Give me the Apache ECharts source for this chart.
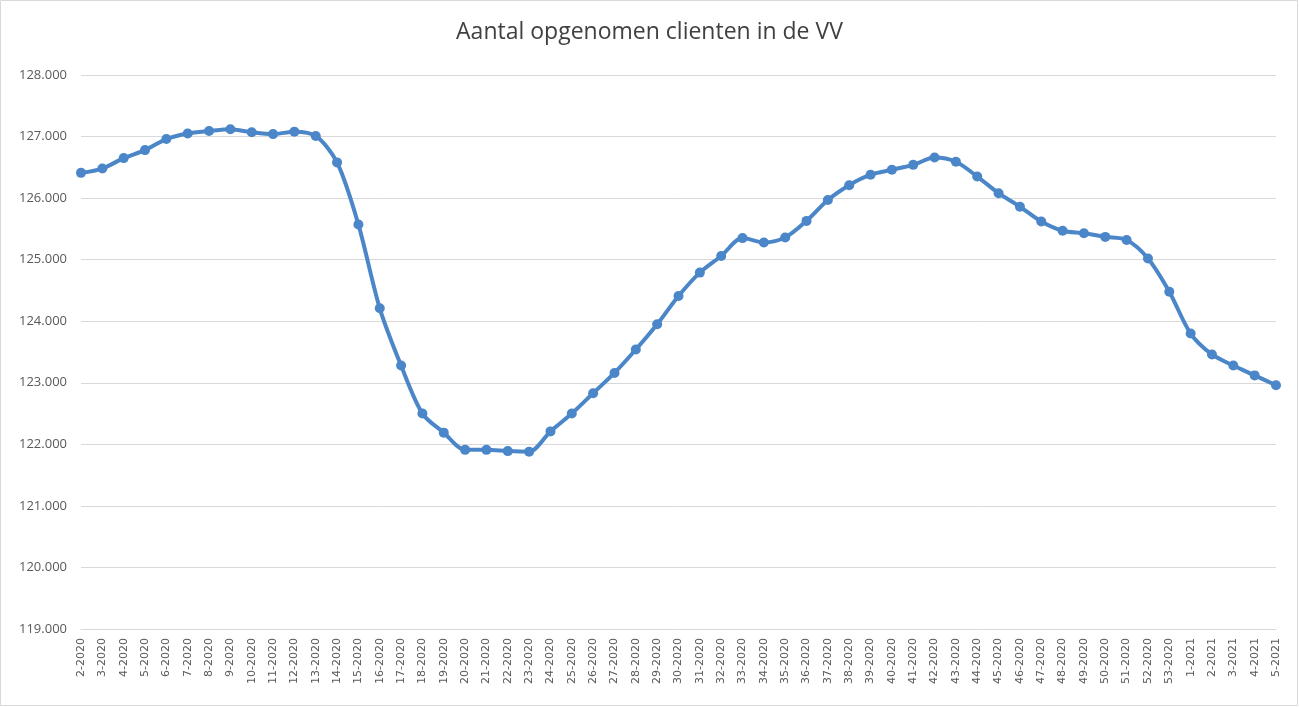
<!DOCTYPE html>
<html>
<head>
<meta charset="utf-8">
<script src="https://cdn.jsdelivr.net/npm/echarts@6/dist/echarts.min.js"></script>
<style>
html,body{margin:0;padding:0;background:#fff;}
#c{width:1299px;height:707px;}
</style>
</head>
<body>
<div id="c"></div>
<script>
const titleText = 'Aantal opgenomen clienten in de VV';
const weeks2020 = [];
for (let w = 2; w <= 53; w++) weeks2020.push(w + '-2020');
const weeks2021 = ['1-2021','2-2021','3-2021','4-2021','5-2021'];
const categories = weeks2020.concat(weeks2021);
const clients = [
  126410,126480,126650,126780,126960,127050,127090,127120,127070,127040,127080,127010,
  126580,125570,124210,123280,122500,122190,121910,121910,121890,121880,122210,122500,
  122830,123160,123540,123950,124410,124790,125060,125350,125280,125360,125630,125970,
  126210,126380,126460,126540,126660,126590,126350,126080,125860,125620,125470,125430,
  125370,125320,125020,124480,123800,123460,123280,123120,122960
];
const yMin = 119000, yMax = 128000, yStep = 1000;

function fmt(v){ return String(v).replace(/\B(?=(\d{3})+(?!\d))/g, '.'); }

const chart = echarts.init(document.getElementById('c'), null, {renderer:'canvas'});
chart.setOption({
  backgroundColor:'#fff',
  animation:false,
  title:{
    text:titleText, left:'center', top:16,
    textStyle:{fontFamily:'Open Sans', fontSize:23, fontWeight:'normal', color:'#404040'}
  },
  graphic:[{type:'rect', shape:{x:0.5,y:0.5,width:1297,height:705}, style:{fill:'none', stroke:'#d9d9d9', lineWidth:1}, silent:true}],
  grid:{left:81, right:23, top:75, bottom:78, containLabel:false},
  xAxis:{
    type:'category', data:categories, boundaryGap:false,
    axisLine:{show:true, lineStyle:{color:'#d9d9d9', width:1}},
    axisTick:{show:false},
    axisLabel:{rotate:90, interval:0, fontFamily:'DejaVu Sans', fontSize:11, color:'#595959', margin:9}
  },
  yAxis:{
    type:'value', min:yMin, max:yMax, interval:yStep,
    axisLine:{show:false}, axisTick:{show:false},
    splitLine:{lineStyle:{color:'#d9d9d9', width:1}},
    axisLabel:{formatter:fmt, fontFamily:'Open Sans', fontSize:13, color:'#595959', margin:14}
  },
  series:[{
    type:'line', data:clients, smooth:0.3,
    symbol:'circle', symbolSize:10,
    lineStyle:{color:'#4a86c8', width:4},
    itemStyle:{color:'#4a86c8'}
  }]
});
</script>
</body>
</html>
